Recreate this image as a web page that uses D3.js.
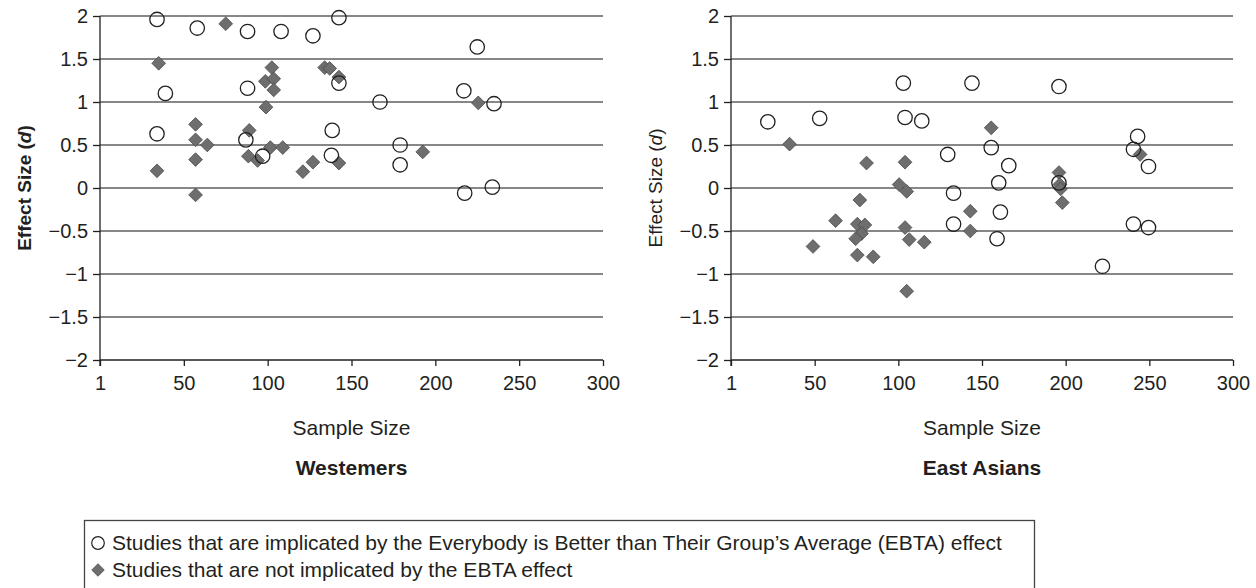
<!DOCTYPE html>
<html>
<head>
<meta charset="utf-8">
<script src="https://cdn.jsdelivr.net/npm/d3@7"></script>
<style>
  html, body { margin: 0; padding: 0; background: #fff; }
  svg { display: block; font-family: "Liberation Sans", Arial, sans-serif; }
</style>
</head>
<body>
<div id="chart"></div>
<script>
// ---- data
const xTickValues = [0, 50, 100, 150, 200, 250, 300];
const xTickLabels = ['1', '50', '100', '150', '200', '250', '300'];
const yTickValues = [-2, -1.5, -1, -0.5, 0, 0.5, 1, 1.5, 2];

const westImplicatedN = [34, 58, 88, 108, 127, 39, 88, 34, 87, 97, 142.5, 225, 142.5, 167, 217, 235, 138.5, 138, 179, 179, 217.5, 234];
const westImplicatedD = [1.96, 1.86, 1.82, 1.82, 1.77, 1.10, 1.16, 0.63, 0.56, 0.37, 1.98, 1.64, 1.22, 1.00, 1.13, 0.98, 0.67, 0.38, 0.50, 0.27, -0.06, 0.01];
const westOtherN = [75, 35, 34, 57, 57, 64, 57, 57, 102.5, 98.6, 103.6, 103.6, 99, 89, 88.5, 94, 101.6, 109, 121, 127, 134, 137, 142.5, 142.5, 192.5, 225.6];
const westOtherD = [1.91, 1.45, 0.20, 0.74, 0.56, 0.50, 0.33, -0.08, 1.40, 1.24, 1.27, 1.14, 0.94, 0.67, 0.37, 0.32, 0.47, 0.47, 0.19, 0.30, 1.40, 1.39, 1.29, 0.29, 0.42, 0.99];

const eastImplicatedN = [22, 53, 103, 104, 114, 144, 196, 129.5, 155.5, 166, 160, 133, 133, 161, 159, 196, 222, 243, 240.5, 249.5, 240.5, 249.5];
const eastImplicatedD = [0.77, 0.81, 1.22, 0.82, 0.78, 1.22, 1.18, 0.39, 0.47, 0.26, 0.06, -0.06, -0.42, -0.28, -0.59, 0.06, -0.91, 0.60, 0.45, 0.25, -0.42, -0.46];
const eastOtherN = [35, 49, 62.5, 81, 77, 75.5, 80, 78, 74.5, 75.5, 85, 104, 100.5, 105, 104, 106.5, 115.5, 105, 155.5, 143, 143, 196, 196.5, 197, 198, 244.5];
const eastOtherD = [0.51, -0.68, -0.38, 0.29, -0.14, -0.42, -0.43, -0.53, -0.59, -0.78, -0.80, 0.30, 0.04, -0.04, -0.46, -0.60, -0.63, -1.20, 0.70, -0.27, -0.50, 0.18, 0.04, -0.01, -0.17, 0.39];

const legendLabels = [
  'Studies that are implicated by the Everybody is Better than Their Group\u2019s Average (EBTA) effect',
  'Studies that are not implicated by the EBTA effect'
];

const panels = [
  { title: 'Westemers', boldY: true, left: 100, right: 603,
    implicated: westImplicatedN.map((n, i) => ({ n, d: westImplicatedD[i] })),
    other: westOtherN.map((n, i) => ({ n, d: westOtherD[i] })) },
  { title: 'East Asians', boldY: false, left: 731, right: 1233,
    implicated: eastImplicatedN.map((n, i) => ({ n, d: eastImplicatedD[i] })),
    other: eastOtherN.map((n, i) => ({ n, d: eastOtherD[i] })) }
];

const width = 1256, height = 588;
const plotTop = 16, plotBottom = 360;
const ink = '#231f20';

const svg = d3.select('#chart').append('svg')
  .attr('width', width)
  .attr('height', height);

const y = d3.scaleLinear().domain([-2, 2]).range([plotBottom, plotTop]);
const diamond = d3.symbol(d3.symbolDiamond2, 120);

panels.forEach(p => {
  const x = d3.scaleLinear().domain([0, 300]).range([p.left, p.right]);
  const g = svg.append('g');

  // gridlines
  g.append('g')
    .selectAll('line')
    .data(yTickValues.filter(v => v > -2))
    .join('line')
    .attr('x1', p.left).attr('x2', p.right)
    .attr('y1', d => y(d)).attr('y2', d => y(d))
    .attr('stroke', '#5f5f5f')
    .attr('stroke-width', 1.5);

  // y axis
  const yAxis = g.append('g')
    .attr('transform', `translate(${p.left},0)`)
    .call(d3.axisLeft(y).tickValues(yTickValues).tickSize(7).tickPadding(5)
      .tickFormat(d => d < 0 ? '\u2212' + Math.abs(d) : d));
  yAxis.select('.domain').attr('stroke', ink).attr('stroke-width', 1.3).attr('d', `M0,${plotTop}V${plotBottom + 6}`);
  yAxis.selectAll('.tick line').attr('stroke', ink).attr('stroke-width', 1.3);
  yAxis.selectAll('text').attr('font-size', 20).attr('fill', ink);

  // x axis
  const xAxis = g.append('g')
    .attr('transform', `translate(0,${plotBottom})`)
    .call(d3.axisBottom(x).tickValues(xTickValues).tickSize(6).tickPadding(10)
      .tickFormat((d, i) => xTickLabels[i]));
  xAxis.select('.domain').attr('stroke', ink).attr('stroke-width', 1.3).attr('d', `M${p.left},0H${p.right}`);
  xAxis.selectAll('.tick line').attr('stroke', ink).attr('stroke-width', 1.3);
  xAxis.selectAll('text').attr('font-size', 20).attr('fill', ink);

  // axis titles
  const yt = g.append('text')
    .attr('transform', `translate(${p.left - 76},${y(0)}) rotate(-90)`)
    .attr('dy', '0.35em')
    .attr('text-anchor', 'middle')
    .attr('font-size', 19)
    .attr('font-weight', p.boldY ? 'bold' : 'normal')
    .attr('fill', ink);
  yt.append('tspan').text('Effect Size (');
  yt.append('tspan').attr('font-style', 'italic').text('d');
  yt.append('tspan').text(')');

  g.append('text')
    .attr('x', (p.left + p.right) / 2)
    .attr('y', 435)
    .attr('text-anchor', 'middle')
    .attr('font-size', 21)
    .attr('fill', ink)
    .text('Sample Size');

  g.append('text')
    .attr('x', (p.left + p.right) / 2)
    .attr('y', 475)
    .attr('text-anchor', 'middle')
    .attr('font-size', 21)
    .attr('font-weight', 'bold')
    .attr('fill', ink)
    .text(p.title);

  // points
  g.append('g')
    .selectAll('path')
    .data(p.other)
    .join('path')
    .attr('d', diamond)
    .attr('transform', d => `translate(${x(d.n)},${y(d.d)})`)
    .attr('fill', '#6e6e6e')
    .attr('stroke', '#4a4a4a')
    .attr('stroke-width', 0.8);

  g.append('g')
    .selectAll('circle')
    .data(p.implicated)
    .join('circle')
    .attr('cx', d => x(d.n))
    .attr('cy', d => y(d.d))
    .attr('r', 7.2)
    .attr('fill', 'none')
    .attr('stroke', ink)
    .attr('stroke-width', 1.3);
});

// ---- legend
const legend = svg.append('g');
legend.append('rect')
  .attr('x', 84.5).attr('y', 520.5)
  .attr('width', 950).attr('height', 90)
  .attr('fill', 'none')
  .attr('stroke', '#444')
  .attr('stroke-width', 1.3);

legend.append('circle')
  .attr('cx', 98).attr('cy', 543)
  .attr('r', 6.3)
  .attr('fill', 'none')
  .attr('stroke', ink)
  .attr('stroke-width', 1.2);

legend.append('path')
  .attr('d', d3.symbol(d3.symbolDiamond2, 100))
  .attr('transform', 'translate(98,570)')
  .attr('fill', '#6e6e6e')
  .attr('stroke', '#4a4a4a')
  .attr('stroke-width', 0.8);

legend.selectAll('text.lg')
  .data(legendLabels)
  .join('text')
  .attr('class', 'lg')
  .attr('x', 112)
  .attr('y', (d, i) => 550 + i * 27)
  .attr('font-size', 21)
  .attr('fill', ink)
  .text(d => d);
</script>
</body>
</html>
